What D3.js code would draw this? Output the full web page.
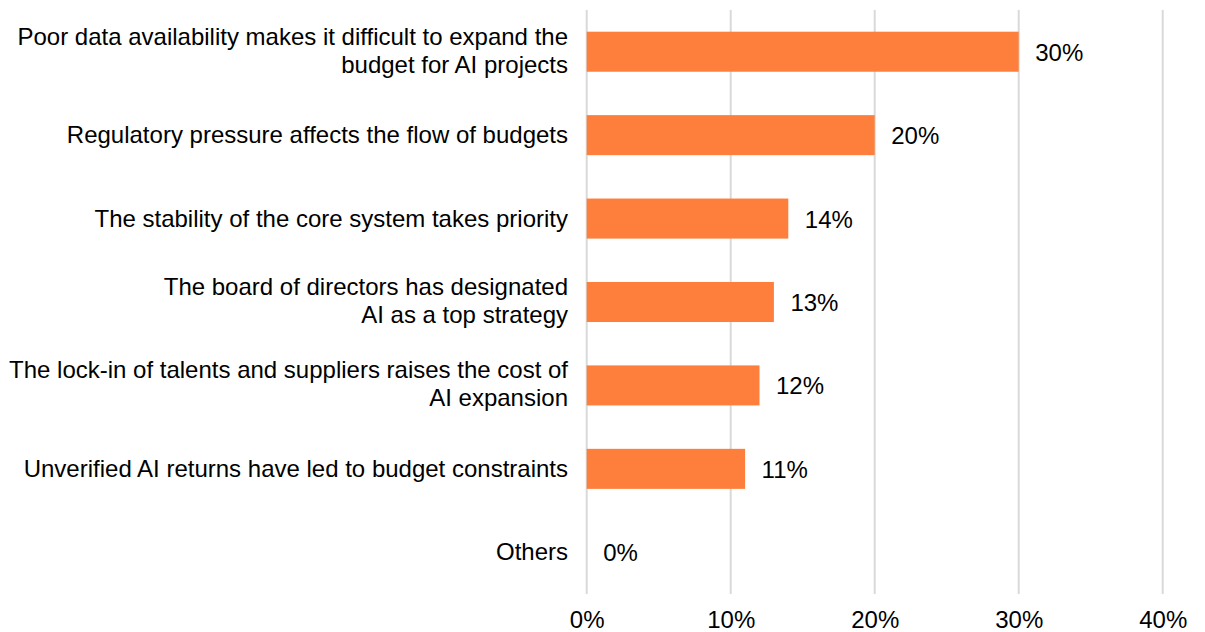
<!DOCTYPE html>
<html>
<head>
<meta charset="utf-8">
<script src="https://cdn.jsdelivr.net/npm/d3@7"></script>
<style>
  html, body { margin: 0; padding: 0; background: #fff; }
  svg text { font-family: "Liberation Sans", Arial, sans-serif; fill: #000; }
</style>
</head>
<body>
<svg id="chart" width="1205" height="632"></svg>
<script>
// Reasons affecting AI budget allocation (share of respondents)
const categories = [
  ["Poor data availability makes it difficult to expand the", "budget for AI projects"],
  ["Regulatory pressure affects the flow of budgets"],
  ["The stability of the core system takes priority"],
  ["The board of directors has designated", "AI as a top strategy"],
  ["The lock-in of talents and suppliers raises the cost of", "AI expansion"],
  ["Unverified AI returns have led to budget constraints"],
  ["Others"]
];
const values = [30, 20, 14, 13, 12, 11, 0];
const tickValues = [0, 10, 20, 30, 40];

const svg = d3.select("#chart");
const fontSize = 24;

const x = d3.scaleLinear().domain([0, 40]).range([586.7, 1162.7]);
const y = d3.scaleBand()
  .domain(d3.range(categories.length))
  .range([10, 594])
  .paddingInner(0.52)
  .paddingOuter(0.26);

// vertical gridlines
svg.append("g")
  .selectAll("line")
  .data(tickValues)
  .join("line")
  .attr("x1", d => x(d)).attr("x2", d => x(d))
  .attr("y1", 10).attr("y2", 594)
  .attr("stroke", "#d9d9d9")
  .attr("stroke-width", 2);

// bars
svg.append("g")
  .selectAll("rect")
  .data(values)
  .join("rect")
  .attr("x", x(0))
  .attr("y", (d, i) => y(i))
  .attr("width", d => x(d) - x(0))
  .attr("height", y.bandwidth())
  .attr("fill", "#fe7f3b");

// value labels
svg.append("g")
  .selectAll("text")
  .data(values)
  .join("text")
  .attr("x", d => x(d) + 16.5)
  .attr("y", (d, i) => y(i) + y.bandwidth() / 2 + 9)
  .attr("font-size", fontSize)
  .text(d => d + "%");

// category labels (right aligned, wrapped onto two lines where needed)
const lineH = 28;
const catG = svg.append("g");
categories.forEach((lines, i) => {
  const cy = y(i) + y.bandwidth() / 2;
  const firstBaseline = lines.length === 1 ? cy + 8 : cy - 7;
  const t = catG.append("text")
    .attr("text-anchor", "end")
    .attr("font-size", fontSize);
  lines.forEach((l, j) => {
    t.append("tspan")
      .attr("x", 568)
      .attr("y", firstBaseline + j * lineH)
      .text(l);
  });
});

// x axis tick labels
const axis = d3.axisBottom(x)
  .tickValues(tickValues)
  .tickFormat(d => d + "%")
  .tickSize(0)
  .tickPadding(0);
const ax = svg.append("g")
  .attr("transform", "translate(0,628)")
  .call(axis);
ax.select(".domain").remove();
ax.selectAll("text")
  .attr("dy", 0)
  .attr("font-size", fontSize)
  .attr("font-family", "Liberation Sans, Arial, sans-serif")
  .attr("fill", "#000");
</script>
</body>
</html>
